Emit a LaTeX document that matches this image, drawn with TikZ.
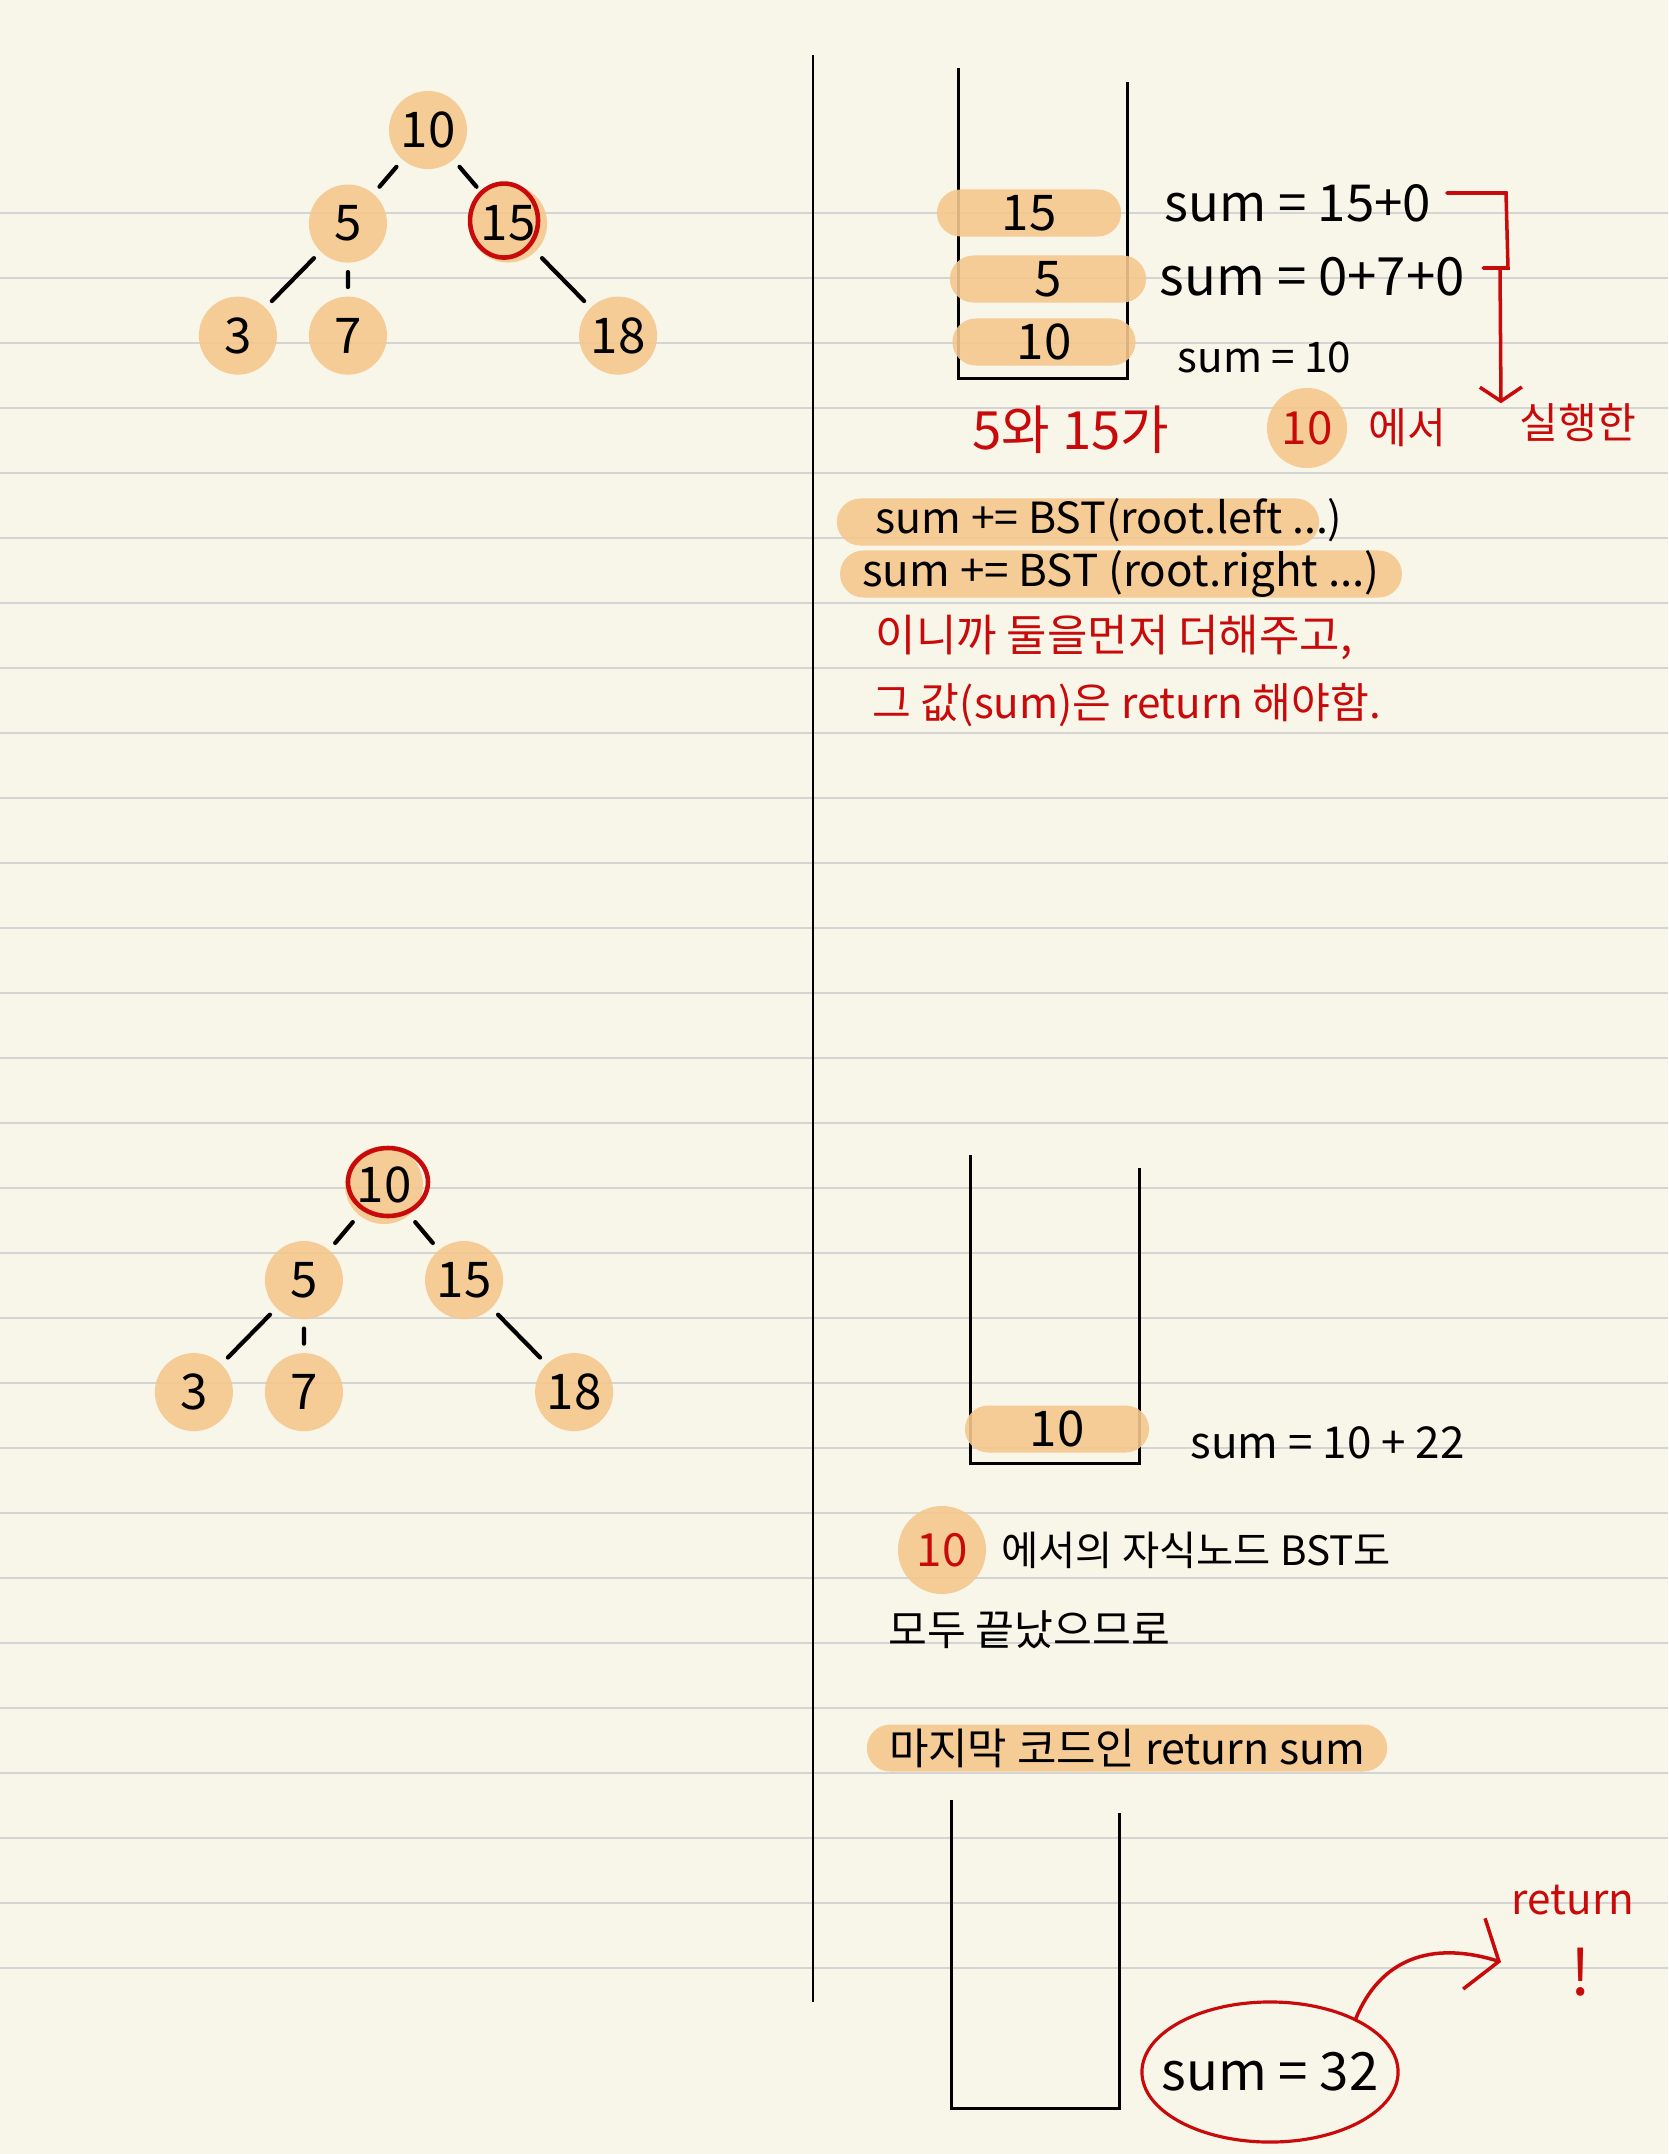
\documentclass[tikz,border=0pt]{standalone}
\usepackage{fontspec}
\setmainfont{Noto Sans CJK KR}
\usetikzlibrary{positioning,trees,arrows.meta,shapes.misc,shapes.geometric}

\definecolor{paper}{RGB}{248,245,233}
\definecolor{rulegray}{RGB}{212,212,212}
\definecolor{nodeorange}{RGB}{245,199,142}
\definecolor{inkred}{RGB}{200,10,10}

\newcommand{\handsz}[1]{\fontsize{#1}{#1}\selectfont}

\tikzset{
  bnode/.style     = {circle, fill=nodeorange, fill opacity=.9, text opacity=1,
                      minimum size=0.78cm, inner sep=0pt, font=\handsz{14}},
  pill/.style      = {rounded rectangle, fill=nodeorange, fill opacity=.9,
                      text opacity=1, inner sep=0pt, minimum height=0.47cm,
                      font=\handsz{14}},
  note/.style      = {inner sep=0pt, anchor=west, font=\handsz{13}},
  rednote/.style   = {note, text=inkred},
  ruling/.style    = {draw=rulegray, line width=0.6pt},
  stackline/.style = {line width=0.85pt},
  redline/.style   = {draw=inkred, line width=1pt, line cap=round},
  redring/.style   = {draw=inkred, line width=1.3pt}
}

\begin{document}
\begin{tikzpicture}[x=0.01cm, y=-0.01cm,
   edge from parent/.style={draw, line width=1.2pt, line cap=round,
                            shorten <=2.5pt, shorten >=2.5pt}]
\useasboundingbox (0,0) rectangle (1668,2154);
\fill[paper] (0,0) rectangle (1668,2154);
% ruled paper
\foreach \k in {0,...,27}
  \draw[ruling] (0,{212.7+65*\k}) -- (1668,{212.7+65*\k});
\draw[line width=0.6pt] (813,55) -- (813,2002);

% first tree, 15 marked
\begin{scope}[level 1/.style={sibling distance=1.6cm, level distance=0.935cm},
              level 2/.style={sibling distance=1.1cm, level distance=1.12cm}]
\node [bnode] (a10) at (428,130) {10}
  child {node [bnode] (a5) {5}
    child {node [bnode] (a3) {3}}
    child {node [bnode] (a7) {7}}
    child [missing]}
  child {node [bnode] (a15) {15}
    child [missing]
    child [missing]
    child {node [bnode] (a18) {18}}};
\end{scope}
\draw[redring] (a15) ++(-4,-3) ellipse (34 and 37);

% second tree, 10 marked
\begin{scope}[level 1/.style={sibling distance=1.6cm, level distance=0.95cm},
              level 2/.style={sibling distance=1.1cm, level distance=1.12cm}]
\node [bnode] (b10) at (384,1185) {10}
  child {node [bnode] (b5) {5}
    child {node [bnode] (b3) {3}}
    child {node [bnode] (b7) {7}}
    child [missing]}
  child {node [bnode] (b15) {15}
    child [missing]
    child [missing]
    child {node [bnode] (b18) {18}}};
\end{scope}
\draw[redring] (b10) ++(4,-3) ellipse (40 and 34);

% stack with 15, 5, 10
\draw[stackline] (958,68) -- (958,378) -- (1127,378) -- (1127,82);
\node[pill, minimum width=1.84cm] (s15) at (1029,213) {15};
\node[pill, minimum width=1.96cm] (s5) at (1048,279) {5};
\node[pill, minimum width=1.83cm] (s10) at (1044,342) {10};
\node[note, font=\handsz{14.5}] (sumA) at (1164,203) {sum = 15+0};
\node[note, font=\handsz{15}] (sumB) at (1159,277) {sum = 0+7+0};
\node[note, font=\handsz{12}] (sumC) at (1177,357) {sum = 10};

\node[rednote, font=\handsz{15}] (fifteen) at (972,430) {5와 15가};
\node[bnode, minimum size=0.8cm, text=inkred, font=\handsz{13}] (c10) at (1307,428) {10};
\node[rednote, font=\handsz{12}, right=0.2cm of c10] (eseo) {에서};
\node[rednote, font=\handsz{12}] (act) at (1519,423) {실행한};

\draw[redline] (sumA.east) ++(15,-10) -- (1506,193) -- (1508,268) -- (1483,268);
\coordinate (brk) at (1500,268);
\draw[redline, -{Straight Barb[length=0.14cm, width=0.42cm]}] (brk) -- ([xshift=-0.18cm]act.north west);

% recursive calls
\node[pill, minimum width=4.82cm] (codeL) at (1078,522) {};
\node[note, font=\handsz{12.2}] (codeLt) at (875,520) {sum += BST(root.left ...)};
\node[pill, minimum width=5.30cm, font=\handsz{12.5}] (codeR) at (1121,574) {sum += BST (root.right ...)};
\node[rednote, font=\handsz{12.5}] (expl1) at (875,637) {이니까 둘을먼저 더해주고,};
\node[rednote, font=\handsz{12}] (expl2) at (872,705) {그 값(sum)은 return 해야함.};

% stack with 10 only
\draw[stackline] (970,1155) -- (970,1463) -- (1139,1463) -- (1139,1168);
\node[pill, minimum width=1.84cm] (m10) at (1057,1429) {10};
\node[note, font=\handsz{12.5}] (sumD) at (1190,1443) {sum = 10 + 22};
\node[bnode, minimum size=0.88cm, text=inkred, font=\handsz{13}] (d10) at (942,1550) {10};
\node[note, font=\handsz{11.5}, right=0.14cm of d10] (kids) {에서의 자식노드 BST도};
\node[note, font=\handsz{12}] (done) at (888,1630) {모두 끝났으므로};
\node[pill, minimum width=5.20cm, font=\handsz{12.2}] (last) at (1127,1748) {마지막 코드인 return sum};

% empty stack, return
\draw[stackline] (951,1800) -- (951,2108) -- (1119,2108) -- (1119,1813);
\node[ellipse, draw=inkred, line width=0.9pt, minimum width=2.56cm,
      minimum height=1.40cm, inner sep=0pt,
      label={[font=\handsz{15}]center:sum = 32}] (sum32) at (1270,2072) {};
\node[rednote, font=\handsz{12}, anchor=center] (ret) at (1573,1900) {return};
\node[rednote, font=\handsz{18}, anchor=center] (bang) at (1581,1972) {!};
\coordinate (rettip) at (1501,1962);
\draw[redline, -{Straight Barb[length=0.26cm, width=0.74cm]}] (sum32.32)
  .. controls (1380,1960) and (1430,1940) .. (rettip);
\end{tikzpicture}
\end{document}
